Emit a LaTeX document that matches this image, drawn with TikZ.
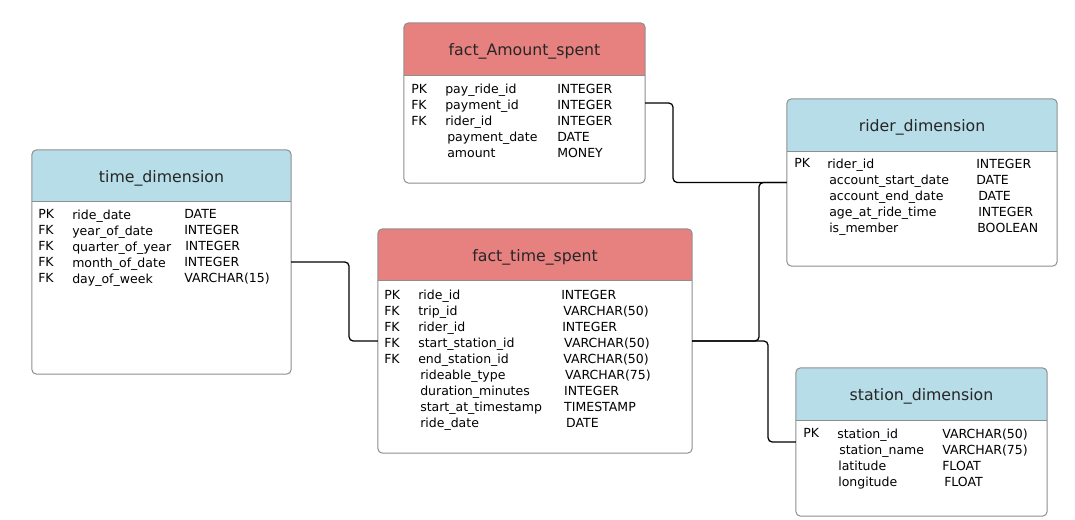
\documentclass[tikz,border=0pt]{standalone}
\usepackage{fontspec}
\setmainfont{DejaVu Sans}
\definecolor{factred}{HTML}{E68180}
\definecolor{dimblue}{HTML}{B7DDE8}
\definecolor{boxgrey}{HTML}{8E8E8E}
\tikzset{
  tablebox/.style={draw=boxgrey, line width=0.7pt, rounded corners=3pt, fill=white, inner sep=0pt, outer sep=0pt,
    path picture={
      \fill[#1, sharp corners] (path picture bounding box.north west) rectangle ([yshift=-1.3cm]path picture bounding box.north east);
      \draw[boxgrey, line width=0.7pt, sharp corners] ([yshift=-1.3cm]path picture bounding box.north west) -- ([yshift=-1.3cm]path picture bounding box.north east);
    }},
  tabletitle/.style={anchor=base, inner sep=0pt, font=\fontsize{11.2}{13}\selectfont, text=black!85},
  fieldcol/.style={anchor=north west, align=left, inner sep=0pt, font=\fontsize{8.9}{11.38}\selectfont},
  link/.style={draw=black, line width=0.9pt, rounded corners=3pt}
}
\begin{document}
\begin{tikzpicture}[x=0.025cm, y=-0.025cm]
    \useasboundingbox (0,0) rectangle (1075,519);

    % fact tables
    \node[tablebox=factred, minimum width=6.025cm, minimum height=4cm] (amount) at (524.5,103) {};
    \node[tabletitle] (amount-title) at ([yshift=-0.825cm]amount.north) {fact\_Amount\_spent};
    \node[fieldcol] (amount-keys) at (411,84) {PK\\FK\\FK};
    \node[fieldcol] (amount-names) at (445,84) {pay\_ride\_id\\payment\_id\\rider\_id\\\hspace*{1.4pt}payment\_date\\\hspace*{1.4pt}amount};
    \node[fieldcol] (amount-types) at (557,84) {INTEGER\\INTEGER\\INTEGER\\DATE\\MONEY};

    \node[tablebox=factred, minimum width=7.85cm, minimum height=5.6cm] (ride) at (535,341) {};
    \node[tabletitle] (ride-title) at ([yshift=-0.825cm]ride.north) {fact\_time\_spent};
    \node[fieldcol] (ride-keys) at (384,290) {PK\\FK\\FK\\FK\\FK};
    \node[fieldcol] (ride-names) at (418,290) {ride\_id\\trip\_id\\rider\_id\\start\_station\_id\\end\_station\_id\\\hspace*{1.4pt}rideable\_type\\\hspace*{1.4pt}duration\_minutes\\\hspace*{1.4pt}start\_at\_timestamp\\\hspace*{1.4pt}ride\_date};
    \node[fieldcol] (ride-types) at (561,290) {INTEGER\\\hspace*{1.4pt}VARCHAR(50)\\\hspace*{0.7pt}INTEGER\\\hspace*{2.1pt}VARCHAR(50)\\\hspace*{1.4pt}VARCHAR(50)\\\hspace*{2.8pt}VARCHAR(75)\\\hspace*{2.1pt}INTEGER\\\hspace*{2.1pt}TIMESTAMP\\\hspace*{3.5pt}DATE};

    % dimension tables
    \node[tablebox=dimblue, minimum width=6.475cm, minimum height=5.6cm] (time) at (161.5,262) {};
    \node[tabletitle] (time-title) at ([yshift=-0.825cm]time.north) {time\_dimension};
    \node[fieldcol] (time-keys) at (38,209.5) {PK\\FK\\FK\\FK\\FK};
    \node[fieldcol] (time-names) at (72,209.5) {ride\_date\\year\_of\_date\\quarter\_of\_year\\month\_of\_date\\day\_of\_week};
    \node[fieldcol] (time-types) at (184,209.5) {DATE\\INTEGER\\\hspace*{0.7pt}INTEGER\\INTEGER\\VARCHAR(15)};

    \node[tablebox=dimblue, minimum width=6.75cm, minimum height=4.175cm] (rider) at (922,182.5) {};
    \node[tabletitle] (rider-title) at ([yshift=-0.825cm]rider.north) {rider\_dimension};
    \node[fieldcol] (rider-keys) at (794,158.5) {PK};
    \node[fieldcol] (rider-names) at (827,158.5) {rider\_id\\\hspace*{1.4pt}account\_start\_date\\\hspace*{1.4pt}account\_end\_date\\\hspace*{1.4pt}age\_at\_ride\_time\\\hspace*{1.4pt}is\_member};
    \node[fieldcol] (rider-types) at (976,158.5) {INTEGER\\DATE\\\hspace*{1.4pt}DATE\\\hspace*{1.4pt}INTEGER\\\hspace*{0.7pt}BOOLEAN};

    \node[tablebox=dimblue, minimum width=6.275cm, minimum height=3.7cm] (station) at (921.5,442) {};
    \node[tabletitle] (station-title) at ([yshift=-0.825cm]station.north) {station\_dimension};
    \node[fieldcol] (station-keys) at (803,428.5) {PK};
    \node[fieldcol] (station-names) at (837,428.5) {station\_id\\\hspace*{1.4pt}station\_name\\\hspace*{0.7pt}latitude\\\hspace*{0.7pt}longitude};
    \node[fieldcol] (station-types) at (942,428.5) {VARCHAR(50)\\VARCHAR(75)\\FLOAT\\\hspace*{1.4pt}FLOAT};

    % relations
    \draw[link] (time.east) -- ++(58,0) |- (ride.west);
    \draw[link] (amount.east) -- ++(28,0) |- (rider.west);
    \draw[link] (ride.east) -- ++(67,0) |- (rider.west);
    \draw[link] (ride.east) -- ++(76,0) |- (station.west);
\end{tikzpicture}
\end{document}
